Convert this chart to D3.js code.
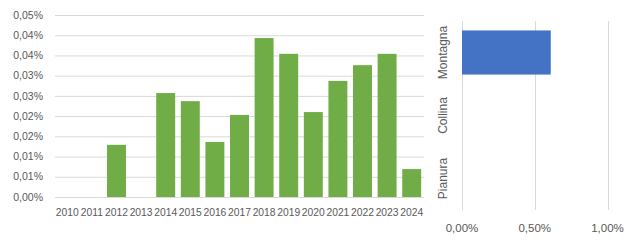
<!DOCTYPE html>
<html><head><meta charset="utf-8">
<script src="https://cdn.jsdelivr.net/npm/d3@7"></script>
<style>body{margin:0;background:#fff}svg{display:block;font-family:"Liberation Sans",Arial,sans-serif}</style>
</head><body><svg id="c" width="630" height="240"></svg>
<script>
const years = ["2010","2011","2012","2013","2014","2015","2016","2017","2018","2019","2020","2021","2022","2023","2024"];
const yearValues = [0,0,0.0129,0,0.0257,0.0237,0.0136,0.0203,0.0393,0.0354,0.0210,0.0287,0.0326,0.0354,0.0069];
const yTickValues = [0,0.005,0.01,0.015,0.02,0.025,0.03,0.035,0.04,0.045];
const yTickLabels = ["0,00%","0,01%","0,01%","0,02%","0,02%","0,03%","0,03%","0,04%","0,04%","0,05%"];
const zones = ["Montagna","Collina","Pianura"];
const zoneValues = [0.61,0,0];
const xTickValues = [0,0.5,1];
const xTickLabels = ["0,00%","0,50%","1,00%"];

const svg = d3.select("#c");
const txt = "#595959", grid = "#d9d9d9";

// Left chart
const x1 = d3.scaleBand().domain(years).range([55,424]).paddingInner(0.23).paddingOuter(0.115);
const y1 = d3.scaleLinear().domain([0,0.045]).range([197,15]);
const g1 = svg.append("g");
g1.selectAll("line.g").data(yTickValues).join("line")
  .attr("x1",55).attr("x2",424).attr("y1",d=>y1(d)+0.5).attr("y2",d=>y1(d)+0.5)
  .attr("stroke",grid).attr("stroke-width",1);
g1.selectAll("text.y").data(yTickValues).join("text")
  .attr("x",43).attr("y",d=>y1(d)).attr("dy","0.35em").attr("text-anchor","end")
  .attr("font-size",10.5).attr("fill",txt).text((d,i)=>yTickLabels[i]);
g1.selectAll("rect").data(yearValues).join("rect")
  .attr("x",(d,i)=>x1(years[i])).attr("width",x1.bandwidth())
  .attr("y",d=>y1(d)).attr("height",d=>y1(0)-y1(d)).attr("fill","#70AD47");
g1.selectAll("text.x").data(years).join("text")
  .attr("x",d=>x1(d)+x1.bandwidth()/2).attr("y",216).attr("text-anchor","middle")
  .attr("font-size",10.3).attr("fill",txt).text(d=>d);

// Right chart
const x2 = d3.scaleLinear().domain([0,1]).range([462,607.5]);
const y2 = d3.scaleBand().domain(zones).range([21,210]).paddingInner(0.3).paddingOuter(0.15);
const g2 = svg.append("g");
g2.selectAll("line").data(xTickValues).join("line")
  .attr("x1",d=>Math.round(x2(d))+0.5).attr("x2",d=>Math.round(x2(d))+0.5).attr("y1",21).attr("y2",210)
  .attr("stroke",grid);
g2.selectAll("rect").data(zoneValues).join("rect")
  .attr("x",x2(0)).attr("width",d=>x2(d)-x2(0))
  .attr("y",(d,i)=>y2(zones[i])).attr("height",y2.bandwidth()).attr("fill","#4472C4");
g2.selectAll("text.x").data(xTickValues).join("text")
  .attr("x",d=>x2(d)).attr("y",232).attr("text-anchor","middle")
  .attr("font-size",11.5).attr("fill",txt).text((d,i)=>xTickLabels[i]);
g2.selectAll("text.z").data(zones).join("text")
  .attr("transform",d=>`translate(447,${y2(d)+y2.bandwidth()/2}) rotate(-90)`)
  .attr("text-anchor","middle").attr("font-size",12).attr("fill",txt).text(d=>d);
</script></body></html>
